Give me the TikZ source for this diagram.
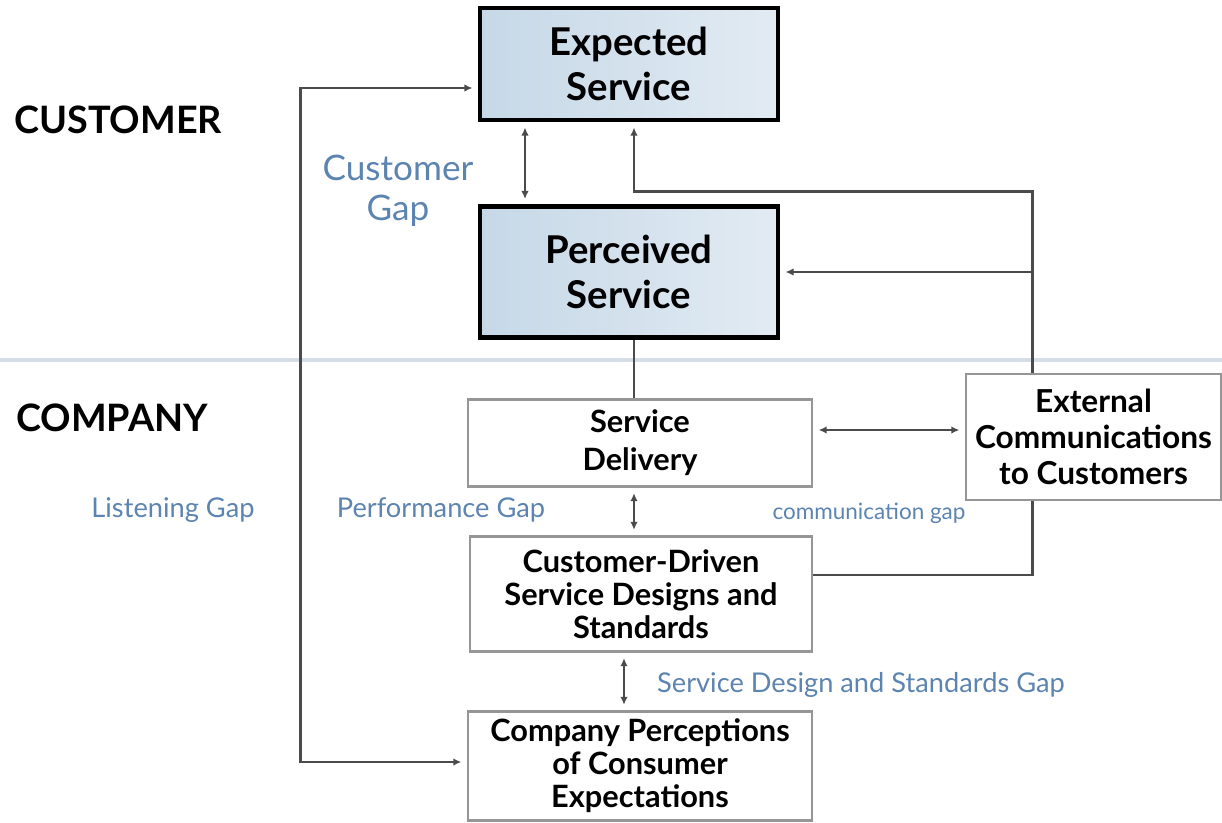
\documentclass[tikz,border=0pt]{standalone}
\usepackage{fontspec}
\setmainfont{Lato}
\usepackage{tikz}
\usetikzlibrary{positioning,arrows.meta}
\definecolor{gapblue}{RGB}{92,132,176}
\definecolor{topblue}{RGB}{198,216,231}
\definecolor{topblueb}{RGB}{226,235,243}
\definecolor{rulecol}{RGB}{212,221,232}
\definecolor{boxgray}{RGB}{150,150,150}
\definecolor{linegray}{RGB}{75,75,75}
\tikzset{topbox/.style={draw=black,line width=2.6pt,left color=topblue,right color=topblueb,
           minimum width=5.96cm,align=center,inner sep=0pt,
           font=\bfseries\fontsize{21.8}{26}\selectfont},
         lowbox/.style={draw=boxgray,line width=1.6pt,fill=white,align=center,inner sep=0pt,
           font=\bfseries\fontsize{17.5}{18.8}\selectfont},
         side/.style={font=\bfseries\fontsize{21.5}{24}\selectfont,anchor=west},
         gap/.style={text=gapblue,align=center,font=\fontsize{15.5}{17}\selectfont},
         conn/.style={draw=linegray,line width=1.5pt},
         both/.style={conn,{Latex[length=1.6mm,width=1.5mm]}-{Latex[length=1.6mm,width=1.5mm]},shorten <=3pt,shorten >=3pt},
         to/.style={conn,-{Latex[length=1.6mm,width=1.5mm]},shorten >=3pt}}

\begin{document}
\begin{tikzpicture}
  \useasboundingbox (0,0) rectangle (24.44,-16.44);
  \draw[rulecol,line width=2.2pt] (0,-7.2) -- (24.44,-7.2);

  \node[topbox,minimum height=2.24cm] (exp) at (12.58,-1.28) {Expected\\Service};
  \node[topbox,minimum height=2.62cm] (perc) at (12.58,-5.44) {Perceived\\Service};
  \node[lowbox,minimum width=6.88cm,minimum height=1.74cm,font=\bfseries\fontsize{17.5}{21.5}\selectfont]
    (deliv) at (12.8,-8.86) {Service\\Delivery};
  \node[lowbox,minimum width=5.1cm,minimum height=2.52cm,font=\bfseries\fontsize{18}{20.5}\selectfont]
    (ext) at (21.87,-8.74) {External\\Communications\\to Customers};
  \node[lowbox,minimum width=6.84cm,minimum height=2.3cm] (design) at (12.82,-11.88)
    {Customer-Driven\\Service Designs and\\Standards};
  \node[lowbox,minimum width=6.88cm,minimum height=2.18cm] (percep) at (12.8,-15.32)
    {Company Perceptions\\of Consumer\\Expectations};

  \node[side] (cust) at (0.16,-2.4) {CUSTOMER};
  \node[side] (comp) at (0.2,-8.36) {COMPANY};
  \node[gap,font=\fontsize{20}{23}\selectfont] (cgap) at (7.96,-3.82) {Customer\\Gap};
  \node[gap] (lgap) at (3.46,-10.2) {Listening Gap};
  \node[gap] (pgap) at (8.82,-10.2) {Performance Gap};
  \node[gap,font=\fontsize{12.8}{14}\selectfont] (mgap) at (17.38,-10.26) {communication gap};
  \node[gap] (sgap) at (17.22,-13.7) {Service Design and Standards Gap};

  \draw[both] ([xshift=-2.08cm]exp.south) -- ([xshift=-2.08cm]perc.north);
  \draw[to] ([xshift=-1.22cm]ext.north) -- ++(0,3.62) -| ([xshift=0.1cm]exp.south);
  \draw[to] ([xshift=-1.22cm]ext.north |- perc.east) -- (perc.east);
  \draw[conn] ([xshift=0.1cm]perc.south) -- ([xshift=0.1cm]perc.south |- deliv.north);
  \draw[both] ([yshift=0.26cm]deliv.east) -- ([yshift=0.26cm]deliv.east -| ext.west);
  \draw[both] ([xshift=0.1cm]perc.south |- deliv.south) -- ([xshift=0.1cm]perc.south |- design.north);
  \draw[conn] ([yshift=0.38cm]design.east) -| ([xshift=-1.22cm]ext.south);
  \draw[both] ([xshift=-0.34cm]design.south) -- ([xshift=-0.34cm]design.south |- percep.north);
  \draw[both] ([yshift=0.08cm]percep.west) -- ++(-3.32,0) |- ([yshift=-0.48cm]exp.west);
\end{tikzpicture}
\end{document}
